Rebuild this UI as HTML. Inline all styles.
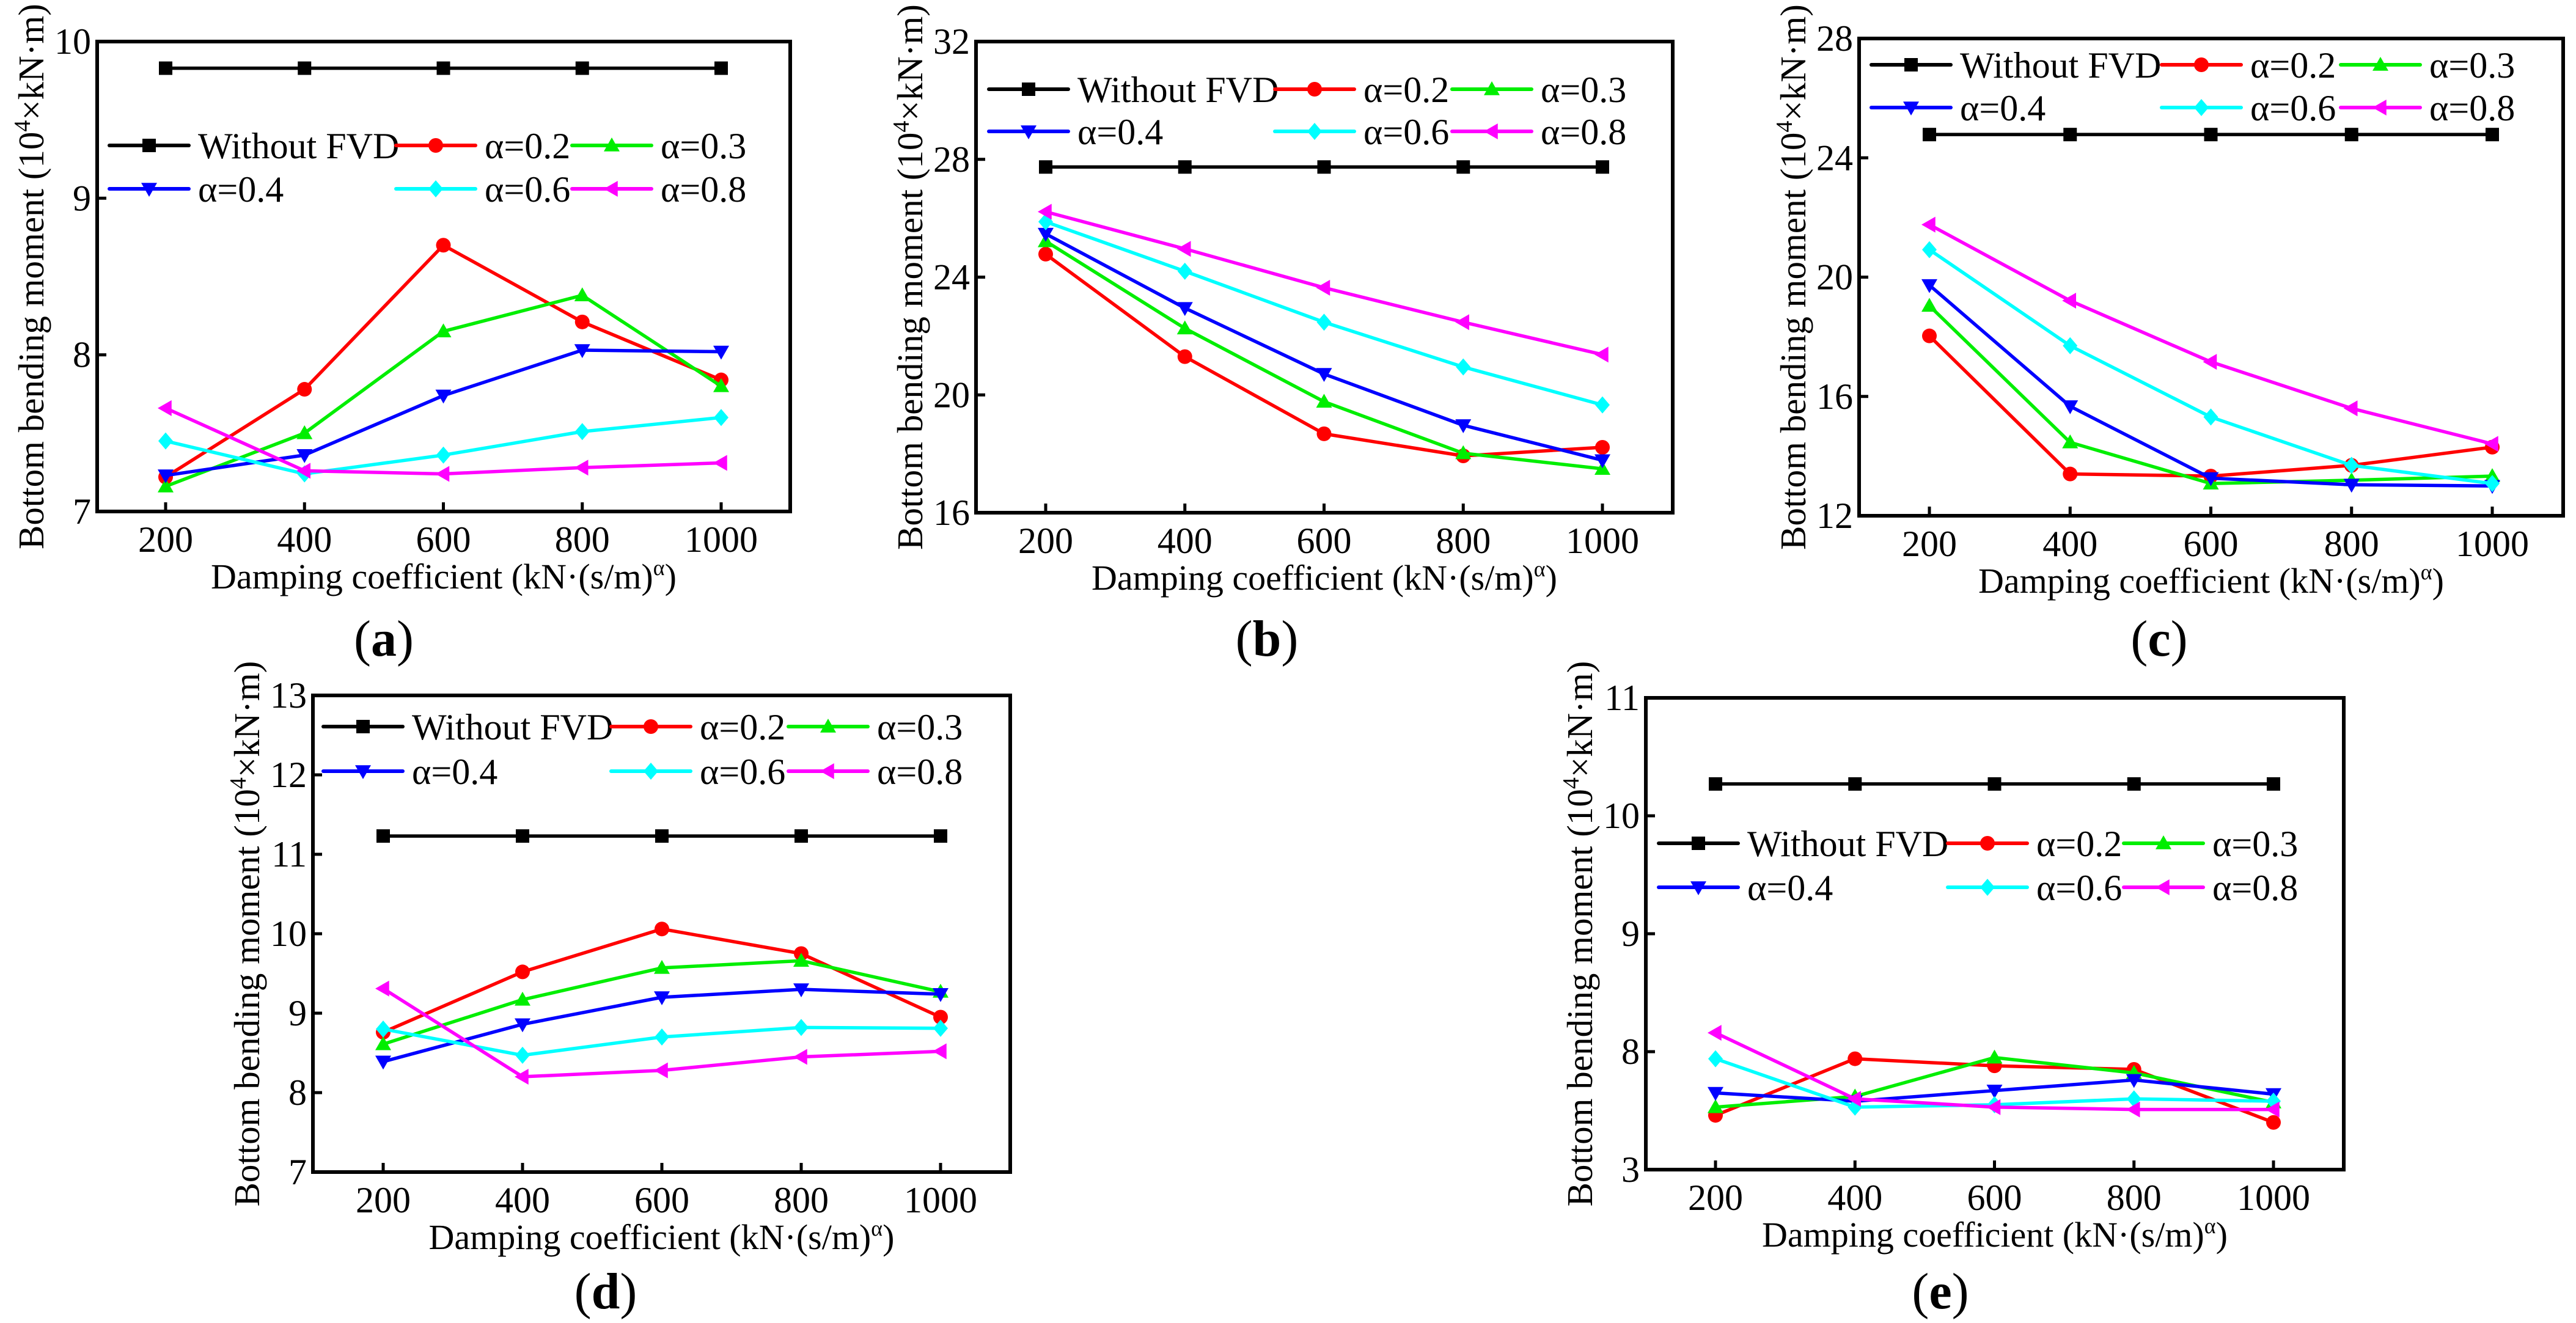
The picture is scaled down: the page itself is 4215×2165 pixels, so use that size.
<!DOCTYPE html>
<html><head><meta charset="utf-8">
<style>
html,body{margin:0;padding:0;background:#fff;}
svg{display:block;}
svg text{font-family:"Liberation Serif","Times New Roman",serif;}
</style></head>
<body>
<svg id="fig" width="4215" height="2165" viewBox="0 0 4215 2165" xmlns="http://www.w3.org/2000/svg" font-family="Liberation Serif, serif"></svg>
<script>
// ---- shared data ----
const categories = [200, 400, 600, 800, 1000];
const seriesNames = ["Without FVD", "α=0.2", "α=0.3", "α=0.4", "α=0.6", "α=0.8"];

// Panel (a)
const aNone = [9.83, 9.83, 9.83, 9.83, 9.83];
const aA02 = [7.22, 7.78, 8.70, 8.21, 7.84];
const aA03 = [7.16, 7.50, 8.15, 8.38, 7.80];
const aA04 = [7.23, 7.36, 7.74, 8.03, 8.02];
const aA06 = [7.45, 7.24, 7.36, 7.51, 7.60];
const aA08 = [7.66, 7.26, 7.24, 7.28, 7.31];
const aTicks = [7, 8, 9, 10];
const aTickLabels = ["7", "8", "9", "10"];

// Panel (b)
const bNone = [27.74, 27.74, 27.74, 27.74, 27.74];
const bA02 = [24.78, 21.30, 18.68, 17.93, 18.22];
const bA03 = [25.22, 22.26, 19.77, 18.02, 17.49];
const bA04 = [25.47, 22.95, 20.71, 18.97, 17.78];
const bA06 = [25.88, 24.20, 22.47, 20.95, 19.66];
const bA08 = [26.22, 24.96, 23.64, 22.47, 21.37];
const bTicks = [16, 20, 24, 28, 32];
const bTickLabels = ["16", "20", "24", "28", "32"];

// Panel (c)
const cNone = [24.78, 24.78, 24.78, 24.78, 24.78];
const cA02 = [18.03, 13.40, 13.33, 13.69, 14.30];
const cA03 = [19.04, 14.46, 13.08, 13.19, 13.33];
const cA04 = [19.73, 15.67, 13.26, 13.04, 13.00];
const cA06 = [20.92, 17.70, 15.31, 13.69, 13.08];
const cA08 = [21.76, 19.21, 17.16, 15.60, 14.41];
const cTicks = [12, 16, 20, 24, 28];
const cTickLabels = ["12", "16", "20", "24", "28"];

// Panel (d)
const dNone = [11.23, 11.23, 11.23, 11.23, 11.23];
const dA02 = [8.76, 9.52, 10.06, 9.75, 8.95];
const dA03 = [8.61, 9.17, 9.57, 9.66, 9.27];
const dA04 = [8.39, 8.86, 9.20, 9.30, 9.24];
const dA06 = [8.80, 8.47, 8.70, 8.82, 8.81];
const dA08 = [9.31, 8.20, 8.28, 8.45, 8.52];
const dTicks = [7, 8, 9, 10, 11, 12, 13];
const dTickLabels = ["7", "8", "9", "10", "11", "12", "13"];

// Panel (e)
const eNone = [10.27, 10.27, 10.27, 10.27, 10.27];
const eA02 = [7.46, 7.94, 7.88, 7.85, 7.40];
const eA03 = [7.53, 7.62, 7.95, 7.82, 7.57];
const eA04 = [7.65, 7.58, 7.67, 7.76, 7.64];
const eA06 = [7.94, 7.53, 7.55, 7.60, 7.58];
const eA08 = [8.16, 7.60, 7.53, 7.51, 7.51];
const eTicks = [7, 8, 9, 10, 11];
const eTickLabels = ["3", "8", "9", "10", "11"];

const NS = "http://www.w3.org/2000/svg";
const FONT = '"Liberation Serif", "Times New Roman", serif';
const svg = document.getElementById("fig");
const colors = ["#000000", "#ff0000", "#00ee00", "#0000ff", "#00ffff", "#ff00ff"];
const markers = ["square", "circle", "up", "down", "diamond", "left"];

function mk(tag, attrs, parent) {
  const e = document.createElementNS(NS, tag);
  for (const k in attrs) e.setAttribute(k, attrs[k]);
  if (tag === "text") e.setAttribute("font-family", FONT);
  parent.appendChild(e);
  return e;
}

function marker(kind, x, y, color, parent) {
  const r = 13;
  let el;
  if (kind === "square") el = mk("rect", {x: x - 11, y: y - 11, width: 22, height: 22, fill: color}, parent);
  else if (kind === "circle") el = mk("circle", {cx: x, cy: y, r: 12, fill: color}, parent);
  else {
    let pts;
    if (kind === "up") pts = [[x, y - r], [x + r, y + r * 0.75], [x - r, y + r * 0.75]];
    else if (kind === "down") pts = [[x, y + r], [x + r, y - r * 0.75], [x - r, y - r * 0.75]];
    else if (kind === "left") pts = [[x - r, y], [x + r * 0.75, y - r], [x + r * 0.75, y + r]];
    else pts = [[x, y - r - 1], [x + r - 1, y], [x, y + r + 1], [x - r + 1, y]];
    el = mk("polygon", {points: pts.map(p => p.join(",")).join(" "), fill: color}, parent);
  }
  
  
  return el;
}

function panel(cfg) {
  const g = mk("g", {}, svg);
  
  
  const {L, R, T, B, x200, x1000, ymin, ymax} = cfg;
  const xs = v => x200 + (v - 200) / 800 * (x1000 - x200);
  const ys = v => B - (v - ymin) / (ymax - ymin) * (B - T);

  cfg.ticks.forEach((t, i) => {
    const y = ys(t);
    if (i > 0 && i < cfg.ticks.length - 1) {
      const tk = mk("line", {x1: L, x2: L + 15, y1: y, y2: y, stroke: "#000", "stroke-width": 5}, g);
      
      
    }
    const tl = mk("text", {x: L - 10, y: y + 20, "text-anchor": "end", "font-size": 60}, g);
    tl.textContent = cfg.tickLabels[i];
    
    
  });
  categories.forEach(c => {
    const x = xs(c);
    const tk = mk("line", {x1: x, x2: x, y1: B, y2: B - 15, stroke: "#000", "stroke-width": 5}, g);
    
    
    const tl = mk("text", {x: x, y: B + 66, "text-anchor": "middle", "font-size": 60}, g);
    tl.textContent = String(c);
    
    
  });

  cfg.series.forEach((vals, si) => {
    const sg = mk("g", {}, g);
    
    
    const pts = vals.map((v, i) => xs(categories[i]) + "," + ys(v)).join(" ");
    const pl = mk("polyline", {points: pts, fill: "none", stroke: colors[si], "stroke-width": 5.5, "stroke-linejoin": "round"}, sg);
    
    
    vals.forEach((v, i) => marker(markers[si], xs(categories[i]), ys(v), colors[si], sg));
  });

  const fr = mk("rect", {x: L, y: T, width: R - L, height: B - T, fill: "none", stroke: "#000", "stroke-width": 6}, g);
  
  

  const lg = mk("g", {}, g);
  
  
  const cols = cfg.legCols, rows = cfg.legRows;
  seriesNames.forEach((n, i) => {
    const col = i % 3, row = Math.floor(i / 3);
    const x0 = cols[col], y = rows[row];
    const eg = mk("g", {}, lg);
    
    
    mk("line", {x1: x0, x2: x0 + 130, y1: y, y2: y, stroke: colors[i], "stroke-width": 6, "stroke-linecap": "round"}, eg);
    marker(markers[i], x0 + 65, y, colors[i], eg);
    const t = mk("text", {x: x0 + 145, y: y + 21, "font-size": 60}, eg);
    t.textContent = n;
  });

  const xt = mk("text", {x: (L + R) / 2, y: B + 126, "text-anchor": "middle", "font-size": 58}, g);
  
  
  xt.innerHTML = 'Damping coefficient (kN·(s/m)<tspan dy="-22" font-size="36">α</tspan><tspan dy="22">)</tspan>';
  const yc = (T + B) / 2 + cfg.yTitleShift;
  const yt = mk("text", {x: 0, y: 0, "text-anchor": "middle", "font-size": 59, transform: `translate(${L - 88},${yc}) rotate(-90)`}, g);
  
  
  yt.innerHTML = 'Bottom bending moment (10<tspan dy="-22" font-size="38">4</tspan><tspan dy="22">×kN·m)</tspan>';

  const lab = mk("text", {x: cfg.labX, y: cfg.labY + 30, "text-anchor": "middle", "font-size": 84}, g);
  
  
  lab.innerHTML = '(<tspan font-weight="bold">' + cfg.id + '</tspan>)';
}

panel({id: "a", L: 159, R: 1293, T: 68, B: 837, x200: 271, x1000: 1180, ymin: 7, ymax: 10,
  ticks: aTicks, tickLabels: aTickLabels, series: [aNone, aA02, aA03, aA04, aA06, aA08],
  legCols: [179, 648, 936], legRows: [238, 309], yTitleShift: 0, labX: 628, labY: 1043});
panel({id: "b", L: 1597, R: 2737, T: 68, B: 839, x200: 1711, x1000: 2622, ymin: 16, ymax: 32,
  ticks: bTicks, tickLabels: bTickLabels, series: [bNone, bA02, bA03, bA04, bA06, bA08],
  legCols: [1618, 2086, 2376], legRows: [146, 215], yTitleShift: 0, labX: 2073, labY: 1043});
panel({id: "c", L: 3042, R: 4194, T: 63, B: 844, x200: 3157, x1000: 4078, ymin: 12, ymax: 28,
  ticks: cTicks, tickLabels: cTickLabels, series: [cNone, cA02, cA03, cA04, cA06, cA08],
  legCols: [3062, 3537, 3830], legRows: [106, 176], yTitleShift: 0, labX: 3533, labY: 1043});
panel({id: "d", L: 512, R: 1653, T: 1138, B: 1918, x200: 627, x1000: 1539, ymin: 7, ymax: 13,
  ticks: dTicks, tickLabels: dTickLabels, series: [dNone, dA02, dA03, dA04, dA06, dA08],
  legCols: [529, 1000, 1290], legRows: [1189, 1262], yTitleShift: 0, labX: 991, labY: 2111});
panel({id: "e", L: 2693, R: 3835, T: 1142, B: 1914, x200: 2807, x1000: 3720, ymin: 7, ymax: 11,
  ticks: eTicks, tickLabels: eTickLabels, series: [eNone, eA02, eA03, eA04, eA06, eA08],
  legCols: [2714, 3187, 3475], legRows: [1380, 1452], yTitleShift: 0, labX: 3175, labY: 2111});
</script>
</body></html>
